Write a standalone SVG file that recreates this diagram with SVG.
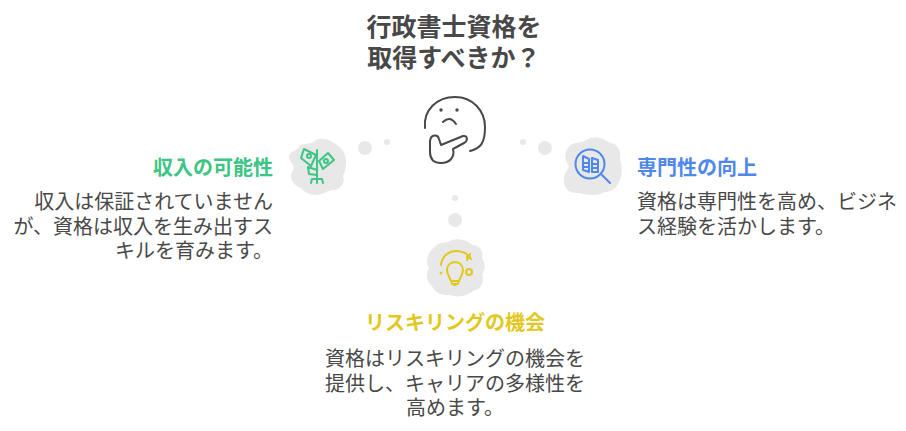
<svg xmlns="http://www.w3.org/2000/svg" width="906" height="431" viewBox="0 0 906 431">
<style>
text{font-family:"Noto Sans CJK JP","Noto Sans CJK SC",sans-serif}
.t{font-size:25px;font-weight:700;fill:#484848;text-anchor:middle}
.h{font-size:20px;font-weight:700}
.b{font-size:20px;fill:#484848}
.dot{fill:#e8e8e8}
.cloud{fill:#e8e8e8}
.ic{fill:none;stroke-width:2;stroke-linecap:round;stroke-linejoin:round}
.g{stroke:#3cc583}.u{stroke:#4f88e8}.y{stroke:#e2c81e}.k{stroke:#484848}
</style>
<rect width="906" height="431" fill="#fff"/>
<g id="connectors">
<circle class="dot" cx="365" cy="148" r="7"/><circle class="dot" cx="387" cy="142" r="3"/>
<circle class="dot" cx="545" cy="148" r="7"/><circle class="dot" cx="523" cy="142" r="3"/>
<circle class="dot" cx="455" cy="220" r="7"/><circle class="dot" cx="455" cy="198" r="3"/>
</g>
<g id="title"><text class="t" x="454" y="36">行政書士資格を</text><text class="t" x="454" y="67">取得すべきか？</text></g>
<g id="center">
<path class="ic k" d="M425 128C423 110 437 97 455 97C473 97 485 111 485 127C485 143 481 148 470 151"/>
<circle cx="441" cy="110" r="1.7" fill="#484848"/><circle cx="457" cy="110" r="1.7" fill="#484848"/>
<path class="ic k" d="M443 122Q450 115 456 124"/>
<path class="ic k" d="M430 141C431 134 438 134 439 139L441 145L463 136C468 135 468 141 464 143L453 149C455 157 450 163 441 163C433 163 430 158 430 152Z"/>
</g>
<g id="n1">
<path class="cloud" d="M298 148C302 141 312 146 316 140C324 136 334 142 338 146C344 149 347 158 346 165C345 170 345 172 343 176C346 182 340 191 332 190C326 191 322 195 316 195C310 195 304 192 301 188C294 186 288 178 293 170C296 165 289 162 289 157C289 152 294 152 298 148Z"/>
<path class="ic g" d="M317 150V183"/>
<path class="ic g" d="M304 149L316 155L311 166L301 158Z"/>
<circle cx="309" cy="156" r="2" class="ic g"/>
<path class="ic g" d="M319 161L328 153L334 160L323 169Z"/>
<circle cx="326" cy="161" r="2" class="ic g"/>
<path class="ic g" d="M308 167L317 170V175L309 174Z"/>
<path class="ic g" d="M311 183L312 179H322L323 183"/>
<text class="h" x="273" y="175" text-anchor="end" fill="#3cc583">収入の可能性</text>
<text class="b" x="273" y="209" text-anchor="end">収入は保証されていません</text>
<text class="b" x="273" y="234" text-anchor="end">が、資格は収入を生み出すス</text>
<text class="b" x="273" y="258" text-anchor="end">キルを育みます。</text>
</g>
<g id="n2">
<path class="cloud" d="M568 148C572 141 580 144 586 140C594 135 604 138 610 143C618 143 622 152 620 160C623 168 622 178 618 184C614 192 606 191 600 194C592 196 584 194 578 193C570 194 563 188 564 180C564 172 568 170 569 166C565 160 564 154 568 148Z"/>
<circle class="ic u" cx="590" cy="164" r="14.5"/>
<path class="ic u" d="M602 175L610 183"/>
<path class="ic u" d="M583 156L589 159V172L583 170ZM583 163H589M583 167H589M592 158V172H598V160ZM592 164H598M592 168H598"/>
<text class="h" x="637" y="175" fill="#4f88e8">専門性の向上</text>
<text class="b" x="637" y="209">資格は専門性を高め、ビジネ</text>
<text class="b" x="637" y="234">ス経験を活かします。</text>
</g>
<g id="n3">
<path class="cloud" d="M434 248C438 241 446 244 452 240C460 238 468 241 472 245C480 245 484 252 482 258C486 264 485 270 482 274C485 282 480 290 474 290C468 296 458 298 450 295C442 296 434 292 432 286C426 282 426 272 429 268C425 262 428 250 434 248Z"/>
<path class="ic y" d="M441 265C442 255 450 251 456 251C462 251 468 254 471 259"/>
<path class="ic y" d="M467 257L470 256M470 254L467 260"/>
<path class="ic y" d="M451 281C449 276 447 274 447 270C447 265 451 262 455 262C459 262 463 265 463 270C463 274 461 276 459 281ZM451 281H459L458 284H452ZM453 284L455 285L457 284"/>
<circle class="ic y" cx="469" cy="272" r="3"/>
<circle cx="441" cy="273" r="1" fill="#e2c81e" stroke="#e2c81e"/>
<text class="h" x="455" y="330" text-anchor="middle" fill="#e2c81e">リスキリングの機会</text>
<text class="b" x="455" y="366" text-anchor="middle">資格はリスキリングの機会を</text>
<text class="b" x="455" y="391" text-anchor="middle">提供し、キャリアの多様性を</text>
<text class="b" x="455" y="415" text-anchor="middle">高めます。</text>
</g>
</svg>
